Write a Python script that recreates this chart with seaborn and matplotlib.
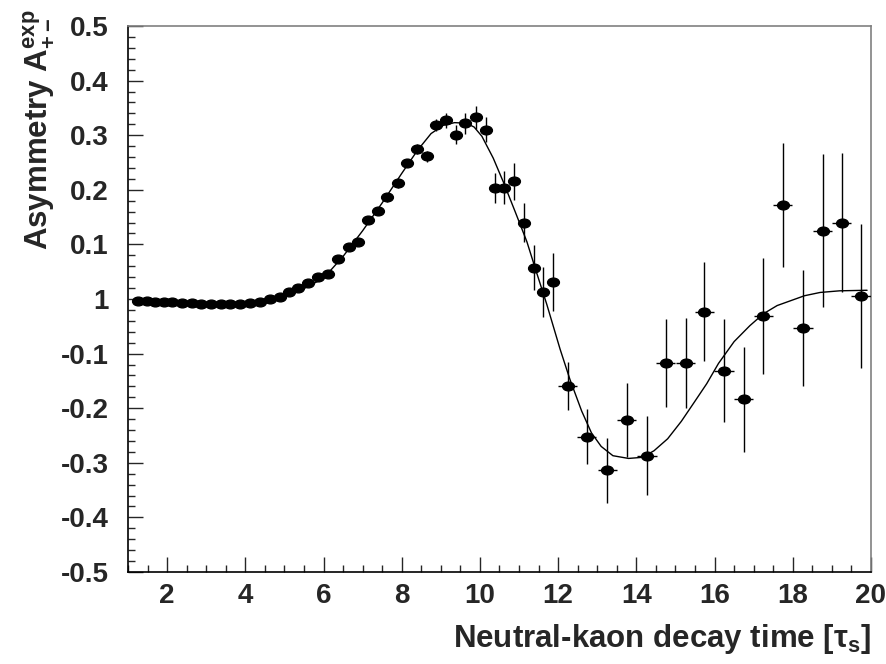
import matplotlib
matplotlib.use("Agg")
import matplotlib.pyplot as plt
from matplotlib.path import Path
from matplotlib.ticker import MultipleLocator
import numpy as np
import seaborn as sns

# measured asymmetry points (bin centre, value, errors)
t_bin = [1.26, 1.48, 1.69, 1.91, 2.12, 2.38, 2.64, 2.87, 3.12, 3.38, 3.62,
         3.87, 4.12, 4.38, 4.63, 4.89, 5.12, 5.35, 5.60, 5.86, 6.11, 6.37,
         6.64, 6.88, 7.15, 7.39, 7.63, 7.90, 8.14, 8.38, 8.64, 8.88, 9.13,
         9.38, 9.62, 9.89, 10.15, 10.39, 10.62, 10.88, 11.13, 11.38, 11.62,
         11.88, 12.24, 12.73, 13.26, 13.75, 14.27, 14.75, 15.26, 15.74,
         16.24, 16.74, 17.25, 17.74, 18.26, 18.76, 19.25, 19.75]
asym = [-0.003, -0.004, -0.005, -0.005, -0.006, -0.007, -0.008, -0.009,
        -0.009, -0.009, -0.010, -0.010, -0.007, -0.005, 0.000, 0.004, 0.013,
        0.020, 0.029, 0.040, 0.046, 0.073, 0.095, 0.105, 0.145, 0.161, 0.186,
        0.212, 0.249, 0.275, 0.261, 0.319, 0.327, 0.301, 0.322, 0.333, 0.310,
        0.203, 0.204, 0.216, 0.140, 0.057, 0.013, 0.031, -0.160, -0.252,
        -0.314, -0.222, -0.287, -0.117, -0.117, -0.023, -0.131, -0.184,
        -0.031, 0.172, -0.053, 0.125, 0.140, 0.006]
asym_err = [0.003, 0.003, 0.003, 0.003, 0.003, 0.003, 0.003, 0.003, 0.003,
            0.003, 0.003, 0.004, 0.004, 0.004, 0.004, 0.004, 0.005, 0.005,
            0.005, 0.005, 0.006, 0.006, 0.006, 0.007, 0.007, 0.007, 0.008,
            0.008, 0.008, 0.009, 0.010, 0.011, 0.014, 0.017, 0.019, 0.021,
            0.023, 0.028, 0.030, 0.034, 0.036, 0.041, 0.046, 0.053, 0.044,
            0.050, 0.059, 0.068, 0.072, 0.080, 0.083, 0.090, 0.094, 0.096,
            0.107, 0.114, 0.107, 0.140, 0.127, 0.132]
bin_half = [0.125] * 44 + [0.25] * 16

# fitted curve
fit_t = [1.25, 2.0, 2.75, 3.5, 4.0, 4.5, 5.0, 5.5, 6.0, 6.5, 7.0, 7.5, 8.0,
         8.4, 8.75, 9.06, 9.35, 9.65, 9.85, 10.05, 10.34, 10.6, 10.9, 11.2,
         11.45, 11.71, 12.05, 12.3, 12.6, 12.85, 13.1, 13.4, 13.8, 14.15,
         14.45, 14.8, 15.15, 15.5, 15.8, 16.1, 16.5, 16.9, 17.25, 17.6,
         17.95, 18.3, 18.7, 19.2, 19.9]
fit_a = [-0.004, -0.006, -0.008, -0.009, -0.008, -0.004, 0.005, 0.019,
         0.038, 0.078, 0.125, 0.176, 0.230, 0.272, 0.303, 0.318, 0.323,
         0.322, 0.315, 0.298, 0.258, 0.214, 0.160, 0.105, 0.048, -0.010,
         -0.092, -0.147, -0.205, -0.245, -0.270, -0.287, -0.292, -0.290,
         -0.278, -0.256, -0.224, -0.187, -0.155, -0.118, -0.078, -0.049,
         -0.027, -0.012, -0.003, 0.006, 0.012, 0.015, 0.016]

y_ticks = [-0.5, -0.4, -0.3, -0.2, -0.1, 0.0, 0.1, 0.2, 0.3, 0.4, 0.5]
y_ticklabels = ["-0.5", "-0.4", "-0.3", "-0.2", "-0.1", "1",
                "0.1", "0.2", "0.3", "0.4", "0.5"]
x_ticks = [2, 4, 6, 8, 10, 12, 14, 16, 18, 20]

sns.set_style("ticks")
plt.rcParams["font.family"] = ["Liberation Sans", "DejaVu Sans"]
plt.rcParams["font.weight"] = "bold"
plt.rcParams["mathtext.fontset"] = "custom"
plt.rcParams["mathtext.rm"] = "Liberation Sans:bold"
plt.rcParams["mathtext.it"] = "Liberation Sans:bold"
plt.rcParams["mathtext.bf"] = "Liberation Sans:bold"

fig = plt.figure(figsize=(8.86, 6.64), dpi=100)
ax = fig.add_axes([128 / 886, 1 - 572 / 664, 743 / 886, 546 / 664])

sns.lineplot(x=fit_t, y=fit_a, color="black", linewidth=1.0, sort=False,
             ax=ax, zorder=2)

circ = Path.unit_circle()
ellipse = Path(circ.vertices * np.array([1.35, 1.0]), circ.codes)
ax.errorbar(t_bin, asym, yerr=asym_err, xerr=bin_half, fmt="none",
            ecolor="black", elinewidth=1.0, capsize=0, zorder=3)
ax.plot(t_bin, asym, linestyle="none", marker=ellipse, markersize=8.5,
        color="black", zorder=4)

ax.set_xlim(1, 20)
ax.set_ylim(-0.5, 0.5)
ax.set_xticks(x_ticks)
ax.set_yticks(y_ticks)
ax.set_yticklabels(y_ticklabels)
ax.xaxis.set_minor_locator(MultipleLocator(0.5))
ax.yaxis.set_minor_locator(MultipleLocator(0.02))
ax.tick_params(axis="both", which="major", direction="in", length=11,
               width=1, labelsize=20, top=False, right=False)
ax.tick_params(axis="both", which="minor", direction="in", length=5,
               width=1, top=False, right=False)
ax.tick_params(axis="y", which="major", pad=14)
ax.tick_params(axis="x", which="major", pad=8)
for lab in ax.get_xticklabels() + ax.get_yticklabels():
    lab.set_fontweight("bold")

for side in ["left", "bottom"]:
    ax.spines[side].set_color("black")
    ax.spines[side].set_linewidth(1.2)
for side in ["top", "right"]:
    ax.spines[side].set_color("#808080")
    ax.spines[side].set_linewidth(1.2)

ax.set_xlabel(r"Neutral-kaon decay time [$\tau_\mathrm{s}$]", fontsize=22.5,
              fontweight="bold", loc="right", labelpad=9)
ax.set_ylabel(r"Asymmetry A$_{+-}^{\mathrm{exp}}$", fontsize=22.5,
              fontweight="bold", loc="top")
ax.yaxis.set_label_coords(-0.097, 1.03)

fig.savefig("out.png", dpi=100)
